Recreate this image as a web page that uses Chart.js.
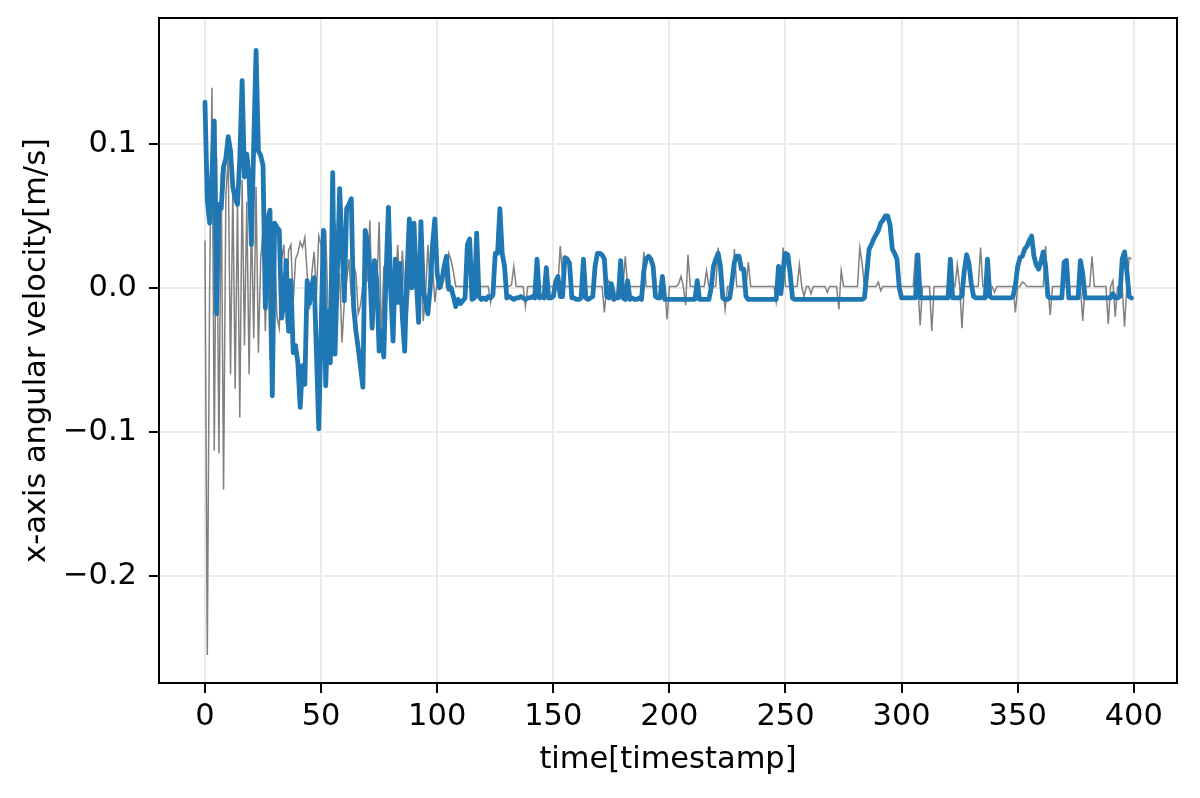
<!DOCTYPE html>
<html>
<head>
<meta charset="utf-8">
<script src="https://cdn.jsdelivr.net/npm/chart.js@4.4.0/dist/chart.umd.min.js"></script>
<style>
  html, body { margin: 0; padding: 0; background: #ffffff; }
  #wrap { width: 1200px; height: 798px; }
</style>
</head>
<body>
<div id="wrap"><canvas id="c" width="1200" height="798"></canvas></div>
<script>
// ---- data ----
const xTicks = [0, 50, 100, 150, 200, 250, 300, 350, 400];
const yTicks = [-0.2, -0.1, 0.0, 0.1];
const xTitle = "time[timestamp]";
const yTitle = "x-axis angular velocity[m/s]";

// thick blue series, indices 0..399
const blueSeries = [
  0.129, 0.061, 0.045, 0.080, 0.116, -0.018, 0.058, 0.055, 0.084, 0.090,
  0.105, 0.095, 0.070, 0.062, 0.058, 0.090, 0.144, 0.077, 0.093, 0.077,
  0.030, 0.100, 0.165, 0.095, 0.092, 0.085, -0.014, 0.047, 0.054, -0.075,
  0.045, 0.042, 0.040, -0.021, -0.010, 0.019, -0.030, 0.005, -0.045, -0.040,
  -0.052, -0.083, -0.054, -0.067, 0.005, -0.011, 0.002, 0.007, -0.045, -0.098,
  -0.030, 0.040, -0.068, -0.016, -0.052, 0.080, -0.046, 0.010, 0.069, 0.030,
  -0.009, 0.055, 0.058, 0.062, -0.013, -0.030, -0.042, -0.055, -0.069, 0.040,
  0.032, 0.012, -0.028, 0.019, 0.005, -0.044, -0.030, -0.048, 0.010, 0.056,
  -0.002, -0.037, 0.020, -0.010, 0.017, -0.020, -0.044, 0.010, 0.048, 0.000,
  0.045, 0.005, -0.024, 0.046, -0.001, -0.010, -0.018, 0.000, 0.030, 0.048,
  0.010, 0.000, 0.005, 0.015, 0.022, -0.001, 0.000, -0.006, -0.013, -0.008,
  -0.011, -0.009, -0.007, 0.030, 0.034, -0.008, -0.007, 0.038, -0.006, -0.008,
  -0.007, -0.008, -0.006, -0.007, -0.005, 0.024, 0.024, 0.055, 0.024, 0.015,
  -0.007, -0.006, -0.007, -0.008, -0.007, -0.007, -0.006, -0.007, -0.008, -0.007,
  -0.007, -0.006, -0.007, 0.020, -0.007, -0.006, -0.007, 0.014, -0.007, -0.007,
  -0.006, 0.004, 0.008, -0.006, -0.006, 0.021, 0.020, 0.017, -0.007, -0.007,
  -0.008, -0.008, -0.007, 0.020, -0.007, -0.008, -0.007, -0.006, 0.015, 0.024,
  0.024, 0.023, 0.020, -0.006, -0.007, 0.003, -0.008, -0.007, -0.007, 0.019,
  -0.007, -0.008, 0.005, -0.008, -0.007, -0.008, -0.008, -0.007, -0.008, 0.012,
  0.020, 0.022, 0.020, 0.015, -0.006, -0.007, -0.007, 0.008, -0.008, -0.008,
  -0.008, -0.008, -0.008, -0.008, -0.008, -0.008, -0.008, -0.008, -0.008, -0.008,
  -0.008, -0.008, 0.005, -0.008, -0.008, -0.008, -0.008, -0.008, 0.000, 0.015,
  0.020, 0.024, 0.015, -0.007, -0.008, -0.008, -0.007, 0.005, 0.018, 0.022,
  0.022, 0.013, 0.013, -0.006, -0.008, -0.008, -0.008, -0.008, -0.008, -0.008,
  -0.008, -0.008, -0.008, -0.008, -0.008, -0.008, -0.008, 0.015, -0.004, 0.012,
  0.024, 0.023, 0.010, -0.007, -0.008, -0.008, -0.008, -0.008, -0.008, -0.008,
  -0.008, -0.008, -0.008, -0.008, -0.008, -0.008, -0.008, -0.008, -0.008, -0.008,
  -0.008, -0.008, -0.008, -0.008, -0.008, -0.008, -0.008, -0.008, -0.008, -0.008,
  -0.008, -0.008, -0.008, -0.008, -0.007, 0.010, 0.027, 0.030, 0.034, 0.037,
  0.040, 0.045, 0.047, 0.050, 0.050, 0.044, 0.027, 0.024, 0.020, 0.000,
  -0.007, -0.007, -0.007, -0.007, -0.007, -0.007, -0.007, 0.023, -0.007, -0.007,
  -0.007, -0.007, -0.007, -0.007, -0.007, -0.007, -0.007, -0.007, -0.007, -0.007,
  -0.007, 0.020, -0.007, -0.007, -0.007, -0.007, -0.005, 0.012, 0.023, 0.017,
  0.003, -0.006, -0.007, -0.007, -0.007, -0.007, -0.007, 0.020, -0.006, -0.007,
  -0.007, -0.007, -0.007, -0.007, -0.007, -0.007, -0.007, -0.007, -0.006, 0.002,
  0.015, 0.021, 0.022, 0.027, 0.029, 0.033, 0.036, 0.022, 0.016, 0.013,
  0.018, 0.025, 0.015, -0.006, -0.007, -0.007, -0.007, -0.007, -0.007, -0.007,
  0.018, 0.019, -0.007, -0.007, -0.007, -0.007, -0.007, 0.019, 0.010, -0.007,
  -0.007, -0.007, -0.007, -0.007, -0.007, -0.007, -0.007, -0.007, -0.007, -0.007,
  -0.007, -0.004, -0.007, -0.007, -0.006, 0.020, 0.025, 0.012, -0.006, -0.007
];

// thin gray series, indices 0..399
const graySeries = [
  0.033, -0.255, 0.000, 0.139, -0.113, 0.090, -0.115, 0.080, -0.140, 0.065,
  0.090, -0.060, 0.070, -0.070, 0.060, -0.090, 0.075, -0.040, 0.060, -0.060,
  0.050, -0.035, 0.070, -0.045, 0.020, 0.040, -0.030, 0.030, -0.050, 0.035,
  0.028, -0.020, -0.028, 0.020, 0.030, -0.025, 0.026, 0.030, -0.010, 0.020,
  0.024, 0.032, 0.028, 0.035, 0.010, -0.015, 0.010, 0.025, -0.005, 0.036,
  0.030, -0.020, 0.040, -0.015, -0.030, -0.010, 0.045, -0.010, 0.010, -0.038,
  -0.010, 0.005, 0.020, -0.006, 0.015, 0.010, -0.018, -0.012, 0.002, 0.005,
  0.005, 0.047, -0.012, 0.020, 0.000, 0.046, -0.038, 0.015, 0.000, 0.025,
  0.000, -0.025, 0.000, 0.030, -0.005, 0.026, 0.000, -0.020, 0.000, 0.010,
  0.000, 0.000, -0.010, 0.030, -0.023, -0.005, 0.030, 0.000, 0.015, -0.010,
  0.005, 0.000, 0.000, 0.020, 0.000, 0.024, 0.019, 0.011, 0.001, 0.001,
  0.001, 0.001, 0.001, 0.001, 0.001, 0.010, 0.001, 0.001, 0.001, 0.001,
  0.001, 0.001, 0.001, -0.010, 0.001, 0.001, 0.001, 0.001, 0.001, 0.001,
  0.001, 0.001, 0.002, 0.015, 0.001, 0.001, 0.001, 0.001, -0.013, 0.001,
  0.001, 0.001, 0.001, 0.001, 0.001, 0.001, 0.001, 0.001, 0.001, 0.001,
  0.001, 0.001, 0.002, 0.029, 0.008, 0.001, 0.001, 0.001, 0.001, 0.001,
  0.001, 0.001, 0.001, 0.001, 0.001, 0.001, 0.001, 0.001, 0.001, 0.001,
  0.001, 0.001, -0.017, 0.001, 0.005, 0.001, 0.001, -0.006, 0.001, 0.001,
  0.001, 0.022, 0.001, 0.001, 0.001, 0.001, 0.001, 0.001, 0.001, 0.025,
  0.001, 0.001, 0.001, 0.001, 0.001, 0.001, 0.001, 0.001, 0.001, -0.022,
  0.001, 0.001, 0.001, 0.001, 0.003, 0.008, 0.001, -0.012, 0.023, 0.001,
  0.001, 0.001, 0.001, 0.001, 0.001, 0.001, 0.012, 0.001, 0.001, 0.001,
  0.001, 0.028, 0.001, 0.001, -0.015, 0.001, 0.001, 0.001, 0.027, 0.001,
  0.001, 0.001, 0.001, 0.001, 0.018, 0.001, 0.001, 0.001, 0.001, 0.001,
  0.001, 0.001, 0.001, 0.001, 0.001, 0.001, -0.010, 0.001, 0.001, 0.028,
  0.001, 0.001, 0.001, 0.001, 0.001, 0.001, 0.016, 0.001, -0.006, 0.001,
  0.001, -0.004, 0.001, 0.001, 0.001, 0.001, 0.001, 0.001, -0.003, 0.001,
  0.001, 0.001, 0.001, -0.015, 0.012, 0.001, 0.001, 0.001, 0.001, 0.001,
  0.001, 0.001, 0.028, 0.017, 0.001, 0.001, 0.001, 0.001, 0.001, 0.001,
  0.004, -0.002, 0.001, 0.001, 0.001, 0.001, 0.001, 0.001, 0.001, 0.001,
  0.001, 0.001, 0.001, 0.001, 0.001, 0.001, 0.024, 0.001, -0.026, 0.001,
  0.001, 0.001, 0.001, -0.030, 0.001, 0.001, 0.001, 0.001, 0.001, 0.001,
  0.001, 0.001, 0.001, 0.001, 0.016, 0.001, -0.028, 0.001, 0.001, 0.001,
  0.001, 0.001, 0.001, 0.001, 0.028, 0.001, 0.001, 0.001, 0.001, 0.001,
  -0.003, 0.001, 0.001, 0.001, 0.001, 0.001, 0.001, 0.001, 0.001, -0.017,
  0.001, 0.001, 0.004, 0.003, 0.001, 0.001, 0.001, 0.001, 0.001, 0.001,
  0.001, 0.001, 0.029, 0.001, -0.019, 0.001, 0.001, 0.001, 0.001, 0.001,
  0.001, 0.001, 0.001, 0.001, 0.001, 0.001, 0.001, 0.001, -0.023, 0.001,
  0.001, 0.001, 0.022, 0.001, 0.001, 0.001, 0.001, 0.001, 0.001, -0.025,
  0.001, 0.005, -0.020, 0.001, 0.001, 0.001, -0.027, 0.001, 0.021, 0.020
];

// ---- chart ----
const FONT = "'DejaVu Sans', 'Liberation Sans', sans-serif";
const FS = 30.5;
const toPts = arr => arr.map((v, i) => ({ x: i, y: v }));
const fmtY = v => {
  const s = Math.abs(v).toFixed(1);
  return (v < -1e-9 ? "\u2212" : "") + s;
};

const boxPlugin = {
  id: 'axesBox',
  afterDraw(chart) {
    const a = chart.chartArea, ctx = chart.ctx;
    ctx.save();
    ctx.strokeStyle = '#000000';
    ctx.lineWidth = 2;
    ctx.strokeRect(a.left, a.top, a.right - a.left, a.bottom - a.top);
    ctx.restore();
  }
};

new Chart(document.getElementById('c'), {
  type: 'line',
  data: {
    datasets: [
      {
        data: toPts(blueSeries),
        borderColor: '#1f77b4',
        borderWidth: 4.8,
        pointRadius: 0,
        tension: 0,
        order: 0,
        borderJoinStyle: 'round',
        borderCapStyle: 'round'
      },
      {
        data: toPts(graySeries),
        borderColor: '#808080',
        borderWidth: 1.5,
        pointRadius: 0,
        tension: 0,
        order: 1
      }
    ]
  },
  options: {
    responsive: false,
    animation: false,
    devicePixelRatio: 1,
    layout: { padding: { left: 0, right: 23, top: 18, bottom: 0 } },
    plugins: { legend: { display: false }, tooltip: { enabled: false } },
    scales: {
      x: {
        type: 'linear',
        min: -19.8,
        max: 418.6,
        afterBuildTicks: s => { s.ticks = xTicks.map(v => ({ value: v })); },
        afterFit: s => { s.height = 115; s.paddingLeft = 0; s.paddingRight = 0; },
        border: { display: false },
        grid: { color: '#ebebeb', lineWidth: 2, tickColor: '#000000', tickWidth: 2, tickLength: 10, drawTicks: true },
        ticks: { color: '#000000', font: { family: FONT, size: FS }, padding: 6, maxRotation: 0, autoSkip: false,
                 callback: v => String(v) },
        title: { display: true, text: xTitle, color: '#000000', font: { family: FONT, size: FS }, padding: { top: 0, bottom: 20 } }
      },
      y: {
        type: 'linear',
        min: -0.2745,
        max: 0.1875,
        afterBuildTicks: s => { s.ticks = yTicks.map(v => ({ value: v })); },
        afterFit: s => { s.width = 159; s.paddingTop = 0; s.paddingBottom = 0; },
        border: { display: false },
        grid: { color: '#ebebeb', lineWidth: 2, tickColor: '#000000', tickWidth: 2, tickLength: 10, drawTicks: true },
        ticks: { color: '#000000', font: { family: FONT, size: FS }, padding: 12, autoSkip: false,
                 callback: v => fmtY(v) },
        title: { display: true, text: yTitle, color: '#000000', font: { family: FONT, size: FS }, padding: { top: 19, bottom: 0 } }
      }
    }
  },
  plugins: [boxPlugin]
});
</script>
</body>
</html>
